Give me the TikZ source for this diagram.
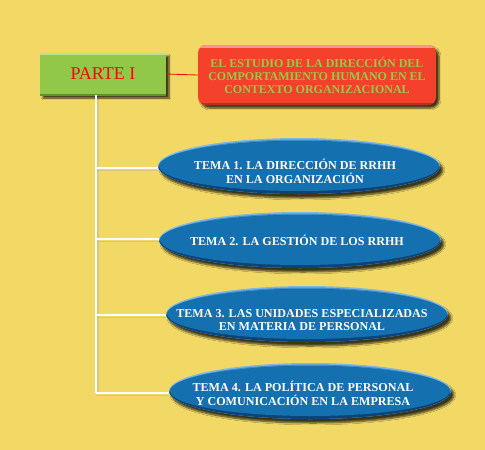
\documentclass[tikz,border=0pt]{standalone}
\usepackage{fontspec}
\setmainfont{Liberation Serif}
\usetikzlibrary{shadows.blur,shapes.geometric}
\definecolor{bgyellow}{HTML}{F2D966}
\definecolor{boxgreen}{HTML}{92C84A}
\definecolor{boxgreendark}{HTML}{7AB536}
\definecolor{boxred}{HTML}{F5412B}
\definecolor{textgreen}{HTML}{95C948}
\definecolor{temablue}{HTML}{1570B0}
\definecolor{temamid}{HTML}{3F8DCB}
\definecolor{temalight}{HTML}{7DB8E6}
\definecolor{temadark}{HTML}{0C4379}
\tikzset{
  partebox/.style={rectangle, minimum width=126pt, minimum height=42pt,
    fill=boxgreen,
    path picture={\draw[boxgreen!60!white, line width=3pt] (path picture bounding box.north west) -- (path picture bounding box.north east);
                  \draw[boxgreendark!80!black, line width=3pt] (path picture bounding box.south west) -- (path picture bounding box.south east);},
    blur shadow={shadow xshift=3pt, shadow yshift=-3pt, shadow blur steps=6, shadow opacity=75},
    text=red, font=\fontsize{18}{20}\selectfont, inner sep=0pt},
  titlebox/.style={rectangle, rounded corners=8pt, minimum width=238pt, minimum height=60pt,
    fill=boxred,
    path picture={\draw[boxred!55!white, line width=3pt] ([yshift=-1.5pt]path picture bounding box.north west) -- ([yshift=-1.5pt]path picture bounding box.north east);
                  \draw[boxred!75!black, line width=3pt] ([yshift=1pt]path picture bounding box.south west) -- ([yshift=1pt]path picture bounding box.south east);},
    blur shadow={shadow xshift=3pt, shadow yshift=-3pt, shadow blur steps=6, shadow opacity=75},
    text=textgreen, font=\bfseries\fontsize{12}{13}\selectfont, align=center, inner sep=0pt},
  temabox/.style={ellipse, minimum width=282pt, minimum height=56pt, inner sep=0pt,
    fill=temalight,
    path picture={
      \fill[temamid] ([yshift=-1.5pt]path picture bounding box.center) ellipse (141pt and 28pt);
      \fill[temadark] ([yshift=-3pt]path picture bounding box.center) ellipse (141pt and 28pt);
      \fill[temablue] ([yshift=0pt]path picture bounding box.center) ellipse (140pt and 25pt);
    },
    blur shadow={shadow xshift=3pt, shadow yshift=-4pt, shadow blur steps=6, shadow opacity=75}},
  temalabel/.style={text=white, font=\bfseries\fontsize{12.1}{13.5}\selectfont, align=center, inner sep=0pt},
  stem/.style={draw=white, line width=1.2pt},
  stemshadow/.style={draw=black!35, line width=1.5pt, opacity=0.35},
  redlink/.style={draw=red, line width=0.8pt}
}
\begin{document}
\begin{tikzpicture}[x=1pt,y=-1pt]
\fill[bgyellow] (0,0) rectangle (485,450);
\useasboundingbox (0,0) rectangle (485,450);

\coordinate (top) at (96,96);
\coordinate (b1) at (96,168);
\coordinate (b2) at (96,239);
\coordinate (b3) at (96,315);
\coordinate (b4) at (96,393);

\node[temabox, label={[temalabel, xshift=-4pt, yshift=-5.5pt]center:TEMA 1. LA DIRECCIÓN DE RRHH\\EN LA ORGANIZACIÓN}] (t1) at (299,166) {};
\node[temabox, label={[temalabel, xshift=-3pt, yshift=-0.5pt]center:TEMA 2. LA GESTIÓN DE LOS RRHH}] (t2) at (300,240) {};
\node[temabox, label={[temalabel, xshift=-5pt, yshift=-6pt]center:TEMA 3. LAS UNIDADES ESPECIALIZADAS\\EN MATERIA DE PERSONAL}] (t3) at (307,314) {};
\node[temabox, label={[temalabel, xshift=-7pt, yshift=-2.5pt]center:TEMA 4. LA POLÍTICA DE PERSONAL\\Y COMUNICACIÓN EN LA EMPRESA}] (t4) at (310,391) {};

\draw[stemshadow] ([xshift=2pt]top) -- ([xshift=2pt]b4);
\foreach \b/\t in {b1/t1,b2/t2,b3/t3,b4/t4}{
  \draw[stemshadow] ([yshift=-2.5pt]\b) -- ([yshift=-2.5pt]\b -| \t.west);
}

\node[partebox] (parte) at (103,74) {PARTE I};
\node[titlebox] (titulo) at (317,75) {EL ESTUDIO DE LA DIRECCIÓN DEL\\COMPORTAMIENTO HUMANO EN EL\\CONTEXTO ORGANIZACIONAL};

\draw[stem] (parte.south -| top) -- (b4);
\draw[stem] (b1) -- (b1 -| t1.west);
\draw[stem] (b2) -- (b2 -| t2.west);
\draw[stem] (b3) -- (b3 -| t3.west);
\draw[stem] (b4) -- (b4 -| t4.west);

\draw[redlink] (parte.east) -- (titulo.west);
\end{tikzpicture}
\end{document}
